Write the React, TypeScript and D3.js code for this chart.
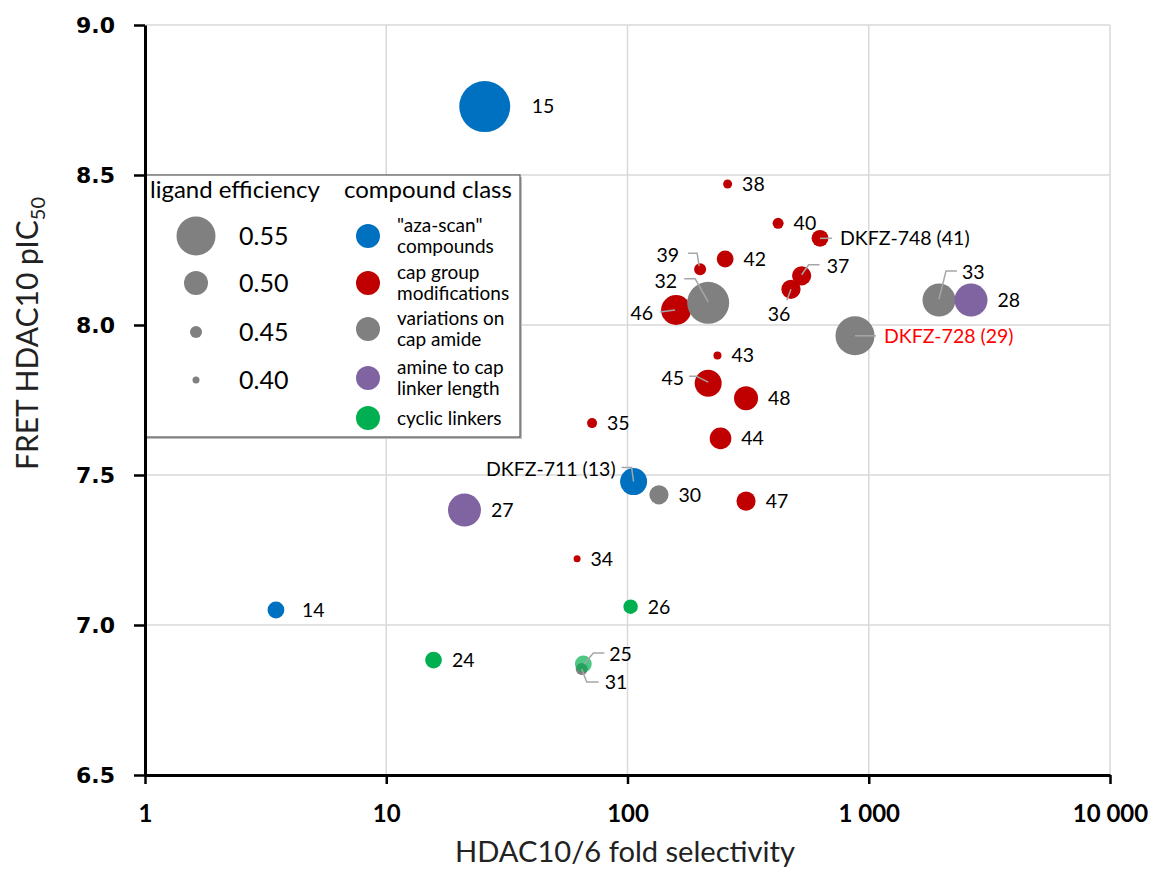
import React, { useEffect, useRef } from 'react';
import * as d3 from 'd3';

// compounds
const compoundLabels = [
  '15', '14', 'DKFZ-711 (13)',
  '38', '40', 'DKFZ-748 (41)', '42', '39', '37', '36', '46', '43', '45', '48', '44', '35', '47', '34',
  '32', 'DKFZ-728 (29)', '33', '30', '31',
  '28', '27',
  '26', '24', '25',
];
const selectivity = [
  25.6, 3.49, 106,
  260, 421, 628, 254, 200, 527, 476, 159, 236, 216, 310, 243, 71.3, 310, 61.8,
  216, 877, 1955, 135, 64.6,
  2654, 21.1,
  103, 15.7, 65.6,
];
const pIC50 = [
  8.728, 7.05, 7.478,
  8.47, 8.339, 8.289, 8.22, 8.186, 8.164, 8.119, 8.05, 7.898, 7.806, 7.756, 7.622, 7.673, 7.413, 7.221,
  8.074, 7.964, 8.083, 7.434, 6.853,
  8.083, 7.383,
  7.061, 6.883, 6.87,
];
const ligandEfficiency = [
  0.59, 0.47, 0.51,
  0.42, 0.44, 0.47, 0.47, 0.45, 0.48, 0.48, 0.52, 0.41, 0.51, 0.5, 0.49, 0.43, 0.48, 0.4,
  0.56, 0.55, 0.53, 0.48, 0.45,
  0.53, 0.53,
  0.46, 0.47, 0.47,
];
const compoundClass = [
  0, 0, 0,
  1, 1, 1, 1, 1, 1, 1, 1, 1, 1, 1, 1, 1, 1, 1,
  2, 2, 2, 2, 2,
  3, 3,
  4, 4, 4,
];

const classNames = [
  ['"aza-scan"', 'compounds'],
  ['cap group', 'modifications'],
  ['variations on', 'cap amide'],
  ['amine to cap', 'linker length'],
  ['cyclic linkers'],
];
const sizeLegendValues = [0.55, 0.5, 0.45, 0.4];
const xTickValues = [1, 10, 100, 1000, 10000];
const yTickValues = [6.5, 7.0, 7.5, 8.0, 8.5, 9.0];

// styling / label placement
const classColors = ['#0070c0', '#c00000', '#808080', '#8064a2', '#00b050'];
const leaderColor = '#a6a6a6';
const labelFont = 'Lato, "Open Sans", sans-serif';

type LabelPos = { dx: number; dy: number; anchor?: string; leader?: number[][]; color?: string };
// offsets (px) from the bubble centre, for labels that are not simply on the right
const labelPlacement: Record<string, LabelPos> = {
  '15': { dx: 47, dy: 0 },
  '14': { dx: 26, dy: 0 },
  '39': { dx: -21, dy: -14, anchor: 'end', leader: [[-12, -16], [-3, -16], [-1, -3]] },
  '32': { dx: -31, dy: -22, anchor: 'end', leader: [[-24, -24], [-13, -24], [0, -1]] },
  '46': { dx: -23, dy: 3, anchor: 'end', leader: [[-16, 2], [-1, 0]] },
  '37': { dx: 25, dy: -10, leader: [[18, -11], [7, -11], [0, -1]] },
  '36': { dx: -12, dy: 25, anchor: 'middle', leader: [[-4, 11], [0, 0]] },
  '33': { dx: 23, dy: -28, leader: [[18, -29], [7, -29], [0, -1]] },
  '45': { dx: -24, dy: -5, anchor: 'end', leader: [[-19, -7], [-12, -7], [0, -1]] },
  'DKFZ-711 (13)': { dx: -18, dy: -12, anchor: 'end', leader: [[-12, -14], [-2, -14], [0, 0]] },
  '25': { dx: 26, dy: -10, leader: [[21, -11], [10, -11], [1, 0]] },
  '31': { dx: 23, dy: 13, leader: [[17, 13], [5, 13], [0, 0]] },
  'DKFZ-748 (41)': { dx: 20, dy: 0, leader: [[0, 0], [12, 0]] },
  'DKFZ-728 (29)': { dx: 29, dy: 0, leader: [[0, 0], [21, 0]], color: '#ff0000' },
};
const translucent = ['25'];

const App = () => {
  const ref = useRef<SVGSVGElement | null>(null);

  useEffect(() => {
    const svg = d3.select(ref.current);
    svg.selectAll('*').remove();

    const x = d3.scaleLog().domain([1, 10000]).range([145, 1110]);
    const y = d3.scaleLinear().domain([6.5, 9.0]).range([775, 25]);
    const r = d3.scaleLinear().domain([0.4, 0.45, 0.5, 0.55]).range([3.5, 6, 12, 19.5]);

    const spaceLocale = d3.formatLocale({ decimal: '.', thousands: ' ', grouping: [3], currency: ['', ''] });
    const fmtX = spaceLocale.format(',');
    const fmtY = d3.format('.1f');

    // gridlines
    const grid = svg.append('g');
    grid.selectAll('line.v')
      .data(xTickValues.slice(1))
      .enter().append('line')
      .attr('x1', d => x(d)).attr('x2', d => x(d))
      .attr('y1', y(9.0)).attr('y2', y(6.5))
      .attr('stroke', '#d9d9d9').attr('stroke-width', 1.5);
    grid.selectAll('line.h')
      .data(yTickValues.slice(1))
      .enter().append('line')
      .attr('x1', x(1)).attr('x2', x(10000))
      .attr('y1', d => y(d)).attr('y2', d => y(d))
      .attr('stroke', '#d9d9d9').attr('stroke-width', 1.5);

    // legend box (drawn under the axis line)
    const lg = svg.append('g');
    lg.append('rect')
      .attr('x', 147).attr('y', 177).attr('width', 375).attr('height', 262)
      .attr('fill', '#bfbfbf');
    lg.append('rect')
      .attr('x', 145).attr('y', 175).attr('width', 375).attr('height', 262)
      .attr('fill', '#fff').attr('stroke', '#595959').attr('stroke-width', 1.2);

    lg.append('text').attr('x', 150).attr('y', 198)
      .style('font-family', labelFont).style('font-size', '24px').attr('fill', '#000')
      .text('ligand efficiency');
    lg.append('text').attr('x', 344).attr('y', 198)
      .style('font-family', labelFont).style('font-size', '24px').attr('fill', '#000')
      .text('compound class');

    const sizeRows = [236, 283, 332, 380];
    sizeLegendValues.forEach((v, i) => {
      lg.append('circle').attr('cx', 196).attr('cy', sizeRows[i]).attr('r', r(v)).attr('fill', '#808080');
      lg.append('text').attr('x', 239).attr('y', sizeRows[i]).attr('dy', '0.35em')
        .style('font-family', labelFont).style('font-size', '25px').attr('fill', '#000')
        .text(d3.format('.2f')(v));
    });

    const classRows = [236, 283, 329, 378, 418];
    classNames.forEach((lines, i) => {
      lg.append('circle').attr('cx', 368).attr('cy', classRows[i]).attr('r', 12).attr('fill', classColors[i]);
      lines.forEach((line, j) => {
        lg.append('text').attr('x', 397)
          .attr('y', classRows[i] + (j - (lines.length - 1) / 2) * 21)
          .attr('dy', '0.35em')
          .style('font-family', labelFont).style('font-size', '19px').attr('fill', '#000')
          .text(line);
      });
    });

    // axes
    const yAxis = svg.append('g')
      .attr('transform', `translate(${x(1)},0)`)
      .call(d3.axisLeft(y).tickValues(yTickValues).tickFormat(d => fmtY(d as number)).tickSize(11).tickSizeOuter(0).tickPadding(19));
    yAxis.select('.domain').attr('stroke', '#000').attr('stroke-width', 3);
    yAxis.selectAll('.tick line').attr('stroke', '#000').attr('stroke-width', 2.5);
    yAxis.selectAll('.tick text')
      .style('font-family', '"DejaVu Sans", Verdana, sans-serif').style('font-weight', 'bold').style('font-size', '22px').attr('fill', '#000');

    const xAxis = svg.append('g')
      .attr('transform', `translate(0,${y(6.5)})`)
      .call(d3.axisBottom(x).tickValues(xTickValues).tickFormat(d => fmtX(d as number)).tickSize(9).tickSizeOuter(0).tickPadding(21));
    xAxis.select('.domain').attr('stroke', '#000').attr('stroke-width', 3);
    xAxis.selectAll('.tick line').attr('stroke', '#000').attr('stroke-width', 2.5);
    xAxis.selectAll('.tick text')
      .style('font-family', labelFont).style('font-weight', 'bold').style('font-size', '24px').attr('fill', '#000');

    // bubbles, in series order
    const idx = d3.range(compoundLabels.length).sort((a, b) => compoundClass[a] - compoundClass[b] || a - b);
    svg.append('g')
      .selectAll('circle')
      .data(idx)
      .enter().append('circle')
      .attr('cx', i => x(selectivity[i]))
      .attr('cy', i => y(pIC50[i]))
      .attr('r', i => r(ligandEfficiency[i]))
      .attr('fill', i => classColors[compoundClass[i]])
      .attr('fill-opacity', i => (translucent.includes(compoundLabels[i]) ? 0.7 : 1));

    // data labels + leader lines
    const labels = svg.append('g');
    idx.forEach(i => {
      const cx = x(selectivity[i]);
      const cy = y(pIC50[i]);
      const name = compoundLabels[i];
      const p = labelPlacement[name] || { dx: r(ligandEfficiency[i]) + 10, dy: 0 };
      if (p.leader) {
        labels.append('path')
          .attr('d', d3.line()(p.leader.map(([a, b]) => [cx + a, cy + b] as [number, number])))
          .attr('fill', 'none').attr('stroke', leaderColor).attr('stroke-width', 1.5);
      }
      labels.append('text')
        .attr('x', cx + p.dx).attr('y', cy + p.dy).attr('dy', '0.35em')
        .attr('text-anchor', p.anchor || 'start')
        .style('font-family', labelFont).style('font-size', '19.5px')
        .attr('fill', p.color || '#000')
        .text(name);
    });

    // axis titles
    svg.append('text')
      .attr('x', 455).attr('y', 862)
      .attr('textLength', 340).attr('lengthAdjust', 'spacingAndGlyphs')
      .style('font-family', labelFont).style('font-size', '29px').attr('fill', '#222')
      .text('HDAC10/6 fold selectivity');

    const yt = svg.append('text')
      .attr('transform', 'translate(38,470) rotate(-90)')
      .style('font-family', labelFont).style('font-size', '30px').attr('fill', '#222');
    yt.append('tspan').text('FRET HDAC10 pIC');
    yt.append('tspan').attr('dy', 7).style('font-size', '20px').text('50');
  }, []);

  return (
    <svg ref={ref} width={1154} height={873}
      style={{ position: 'absolute', left: 0, top: 0, background: '#fff' }} />
  );
};

export default App;
